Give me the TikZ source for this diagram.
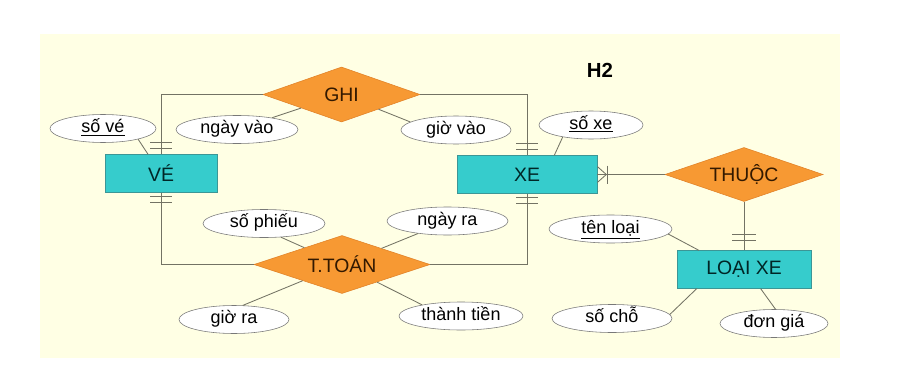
\documentclass[tikz,border=0pt]{standalone}
\usepackage{fontspec}
\setmainfont{Liberation Sans}
\usepackage{tikz}
\usetikzlibrary{shapes.geometric}
\definecolor{bgyellow}{RGB}{255,255,228}
\definecolor{entityfill}{RGB}{54,204,204}
\definecolor{entityline}{RGB}{60,150,150}
\definecolor{relfill}{RGB}{247,153,51}
\definecolor{relline}{RGB}{225,130,40}
\definecolor{linkgray}{RGB}{115,115,100}
\definecolor{attrline}{RGB}{120,120,120}

\begin{document}
\begin{tikzpicture}[x=0.025cm, y=-0.025cm,
  entity/.style={draw=entityline, fill=entityfill, minimum height=0.94cm, inner sep=1pt, font=\fontsize{13.8}{16}\selectfont, text=black!70!teal},
  rel/.style={diamond, draw=relline, fill=relfill, aspect=3, inner sep=0pt, font=\fontsize{13.8}{16}\selectfont, text=black!80!orange},
  attr/.style={ellipse, draw=attrline, fill=white, minimum height=0.7cm, inner sep=0pt, text height=8pt, text depth=2pt, font=\fontsize{12.8}{15}\selectfont},
  link/.style={draw=linkgray, line width=0.6pt},
  tick/.style={draw=linkgray, line width=0.6pt}]
  \useasboundingbox (0,0) rectangle (901,368);
  \fill[bgyellow] (40,34) rectangle (840,358);
  \node[font=\bfseries\fontsize{14.5}{16}\selectfont] (h2) at (600,70) {H2};

  \node[rel, minimum width=3.925cm, minimum height=1.375cm] (ghi) at (341.5,94.5) {GHI};
  \node[rel, minimum width=3.95cm, minimum height=1.35cm] (thuoc) at (744,174.5) {THUỘC};
  \node[rel, minimum width=4.4cm, minimum height=1.45cm] (ttoan) at (342,264.5) {T.TOÁN};
  \node[entity, minimum width=2.8cm] (ve) at (161,173.5) {VÉ};
  \node[entity, minimum width=3.5cm] (xe) at (527,174.5) {XE};
  \node[entity, minimum width=3.35cm] (loaixe) at (744,269.5) {LOẠI XE};

  \node[attr, minimum width=2.65cm] (sove) at (103,128.5) {\underline{số vé}};
  \node[attr, minimum width=3.05cm] (ngayvao) at (237,129.5) {ngày vào};
  \node[attr, minimum width=2.75cm] (giovao) at (456,130) {giờ vào};
  \node[attr, minimum width=2.6cm] (soxe) at (591,125) {\underline{số xe}};
  \node[attr, minimum width=3.05cm] (sophieu) at (264,223.5) {số phiếu};
  \node[attr, minimum width=3.025cm] (ngayra) at (447.5,221) {ngày ra};
  \node[attr, minimum width=2.75cm] (giora) at (234,319.5) {giờ ra};
  \node[attr, minimum width=3.1cm] (thanhtien) at (461,316) {thành tiền};
  \node[attr, minimum width=3.075cm] (tenloai) at (610.5,229) {\underline{tên loại}};
  \node[attr, minimum width=3cm] (socho) at (612,318.5) {số chỗ};
  \node[attr, minimum width=2.7cm] (dongia) at (774,323.5) {đơn giá};

  \draw[link] (ve.north) |- (ghi.west);
  \draw[link] (ghi.east) -| (xe.north);
  \draw[link] (ve.south) |- (ttoan.west);
  \draw[link] (xe.south) |- (ttoan.east);
  \draw[link] (thuoc.west) -- (xe.east);
  \draw[link] (thuoc.south) -- (loaixe.north);

  \draw[link] (sove.-17) -- (ve.124);
  \draw[link] (ngayvao) -- (ghi);
  \draw[link] (giovao.170) -- (ghi);
  \draw[link] (soxe.-157) -- (xe.35);
  \draw[link] (sophieu.-39) -- (ttoan);
  \draw[link] (ngayra.-157) -- (ttoan);
  \draw[link] (giora.58) -- (ttoan);
  \draw[link] (thanhtien.164) -- (ttoan);
  \draw[link] (tenloai.-5) -- (loaixe.157);
  \draw[link] (socho.4) -- (loaixe.-158);
  \draw[link] (dongia.84) -- (loaixe.-49);

  \draw[tick] ([shift={(-11,-6)}]ve.north) -- ++(22,0) ([shift={(-11,-12)}]ve.north) -- ++(22,0);
  \draw[tick] ([shift={(-11,4)}]ve.south) -- ++(22,0) ([shift={(-11,10)}]ve.south) -- ++(22,0);
  \draw[tick] ([shift={(-11,-6)}]xe.north) -- ++(22,0) ([shift={(-11,-12)}]xe.north) -- ++(22,0);
  \draw[tick] ([shift={(-11,4)}]xe.south) -- ++(22,0) ([shift={(-11,10)}]xe.south) -- ++(22,0);
  \draw[tick] ([shift={(-12,-10)}]loaixe.north) -- ++(24,0) ([shift={(-12,-16)}]loaixe.north) -- ++(24,0);
  \draw[link] ([shift={(0,-8)}]xe.east) -- ++(9,8) -- ++(-9,8);
  \draw[link] ([shift={(10,-9)}]xe.east) -- ++(0,18);
\end{tikzpicture}
\end{document}
